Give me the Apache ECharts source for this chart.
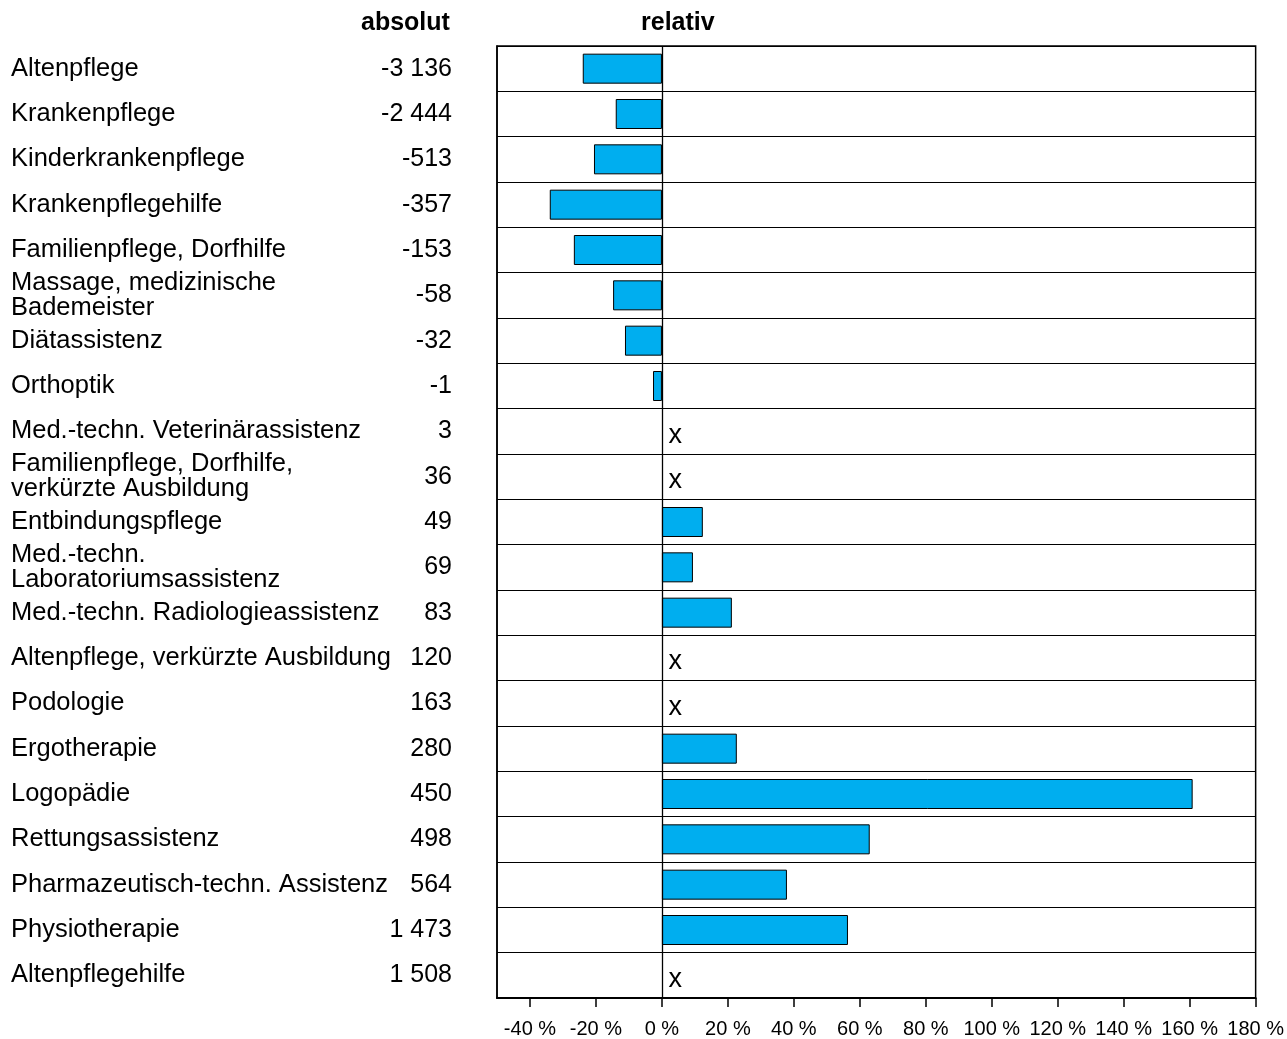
<!DOCTYPE html>
<html>
<head>
<meta charset="utf-8">
<script src="https://cdn.jsdelivr.net/npm/echarts@6/dist/echarts.min.js"></script>
<style>html,body{margin:0;padding:0;background:#fff}#c{width:1287px;height:1039px}</style>
</head>
<body>
<div id="c"></div>
<script>
const categories = [
  'Altenpflege','Krankenpflege','Kinderkrankenpflege','Krankenpflegehilfe','Familienpflege, Dorfhilfe',
  'Massage, medizinische\nBademeister','Diätassistenz','Orthoptik','Med.-techn. Veterinärassistenz',
  'Familienpflege, Dorfhilfe,\nverkürzte Ausbildung','Entbindungspflege','Med.-techn.\nLaboratoriumsassistenz',
  'Med.-techn. Radiologieassistenz','Altenpflege, verkürzte Ausbildung','Podologie','Ergotherapie',
  'Logopädie','Rettungsassistenz','Pharmazeutisch-techn. Assistenz','Physiotherapie','Altenpflegehilfe'
];
const absolute = [-3136,-2444,-513,-357,-153,-58,-32,-1,3,36,49,69,83,120,163,280,450,498,564,1473,1508];
const relative = [-24,-14,-20.6,-34,-26.7,-14.8,-11.2,-2.7,null,null,12.4,9.4,21.2,null,null,22.7,160.9,63,37.9,56.4,null];
const tickValues = [-40,-20,0,20,40,60,80,100,120,140,160,180];

const FONT = 'Liberation Sans, Arial, sans-serif';
function fmtAbs(v){
  const s = String(Math.abs(v)).replace(/\B(?=(\d{3})+(?!\d))/g, ' ');
  return (v < 0 ? '-' : '') + s;
}
const missing = relative.map((v,i) => v === null ? [0, i] : null).filter(d => d);

const chart = echarts.init(document.getElementById('c'));
chart.setOption({
  animation: false,
  backgroundColor: '#fff',
  title: [
    {text: 'absolut', left: 361, top: 11, padding: 0, textStyle: {fontFamily: FONT, fontSize: 25, fontWeight: 'bold', color: '#000'}},
    {text: 'relativ', left: 641, top: 11, padding: 0, textStyle: {fontFamily: FONT, fontSize: 25, fontWeight: 'bold', color: '#000'}}
  ],
  grid: {left: 497, right: 31, top: 46, bottom: 41, show: true, borderColor: '#000', borderWidth: 1.5, containLabel: false},
  xAxis: {
    type: 'value', min: -50, max: 180,
    axisLine: {show: true, lineStyle: {color: '#000', width: 2}},
    axisTick: {show: true, length: 9, inside: false, customValues: tickValues, lineStyle: {color: '#000', width: 1.5}},
    axisLabel: {customValues: tickValues, formatter: '{value} %', fontFamily: FONT, fontSize: 20, color: '#000', margin: 21},
    splitLine: {show: false}
  },
  yAxis: [
    {
      type: 'category', data: categories, inverse: true, position: 'left',
      axisLine: {show: true, onZero: false, lineStyle: {color: '#000', width: 1.5}},
      axisTick: {show: false},
      splitLine: {show: true, lineStyle: {color: '#000', width: 1.2}},
      axisLabel: {interval: 0, align: 'left', margin: 486, fontFamily: FONT, fontSize: 25.5, lineHeight: 25,
        color: '#000'}
    },
    {
      type: 'category', data: categories, inverse: true, position: 'left',
      axisLine: {show: false}, axisTick: {show: false}, splitLine: {show: false},
      axisLabel: {interval: 0, align: 'right', margin: 45, fontFamily: FONT, fontSize: 25, color: '#000',
        formatter: (v, i) => fmtAbs(absolute[i])}
    }
  ],
  series: [
    {
      type: 'bar', yAxisIndex: 0, data: relative, barWidth: 30,
      itemStyle: {color: '#00AEEF', borderColor: '#000', borderWidth: 1},
      markLine: {silent: true, symbol: 'none', label: {show: false},
        lineStyle: {color: '#000', width: 1.3, type: 'solid'}, data: [{xAxis: 0}]}
    },
    {
      type: 'scatter', yAxisIndex: 0, data: missing, symbolSize: 1,
      itemStyle: {color: 'rgba(0,0,0,0)'},
      label: {show: true, position: 'right', distance: 6, offset: [0, 4], formatter: 'x', fontFamily: FONT, fontSize: 27, color: '#000', opacity: 1}
    }
  ]
});
</script>
</body>
</html>
